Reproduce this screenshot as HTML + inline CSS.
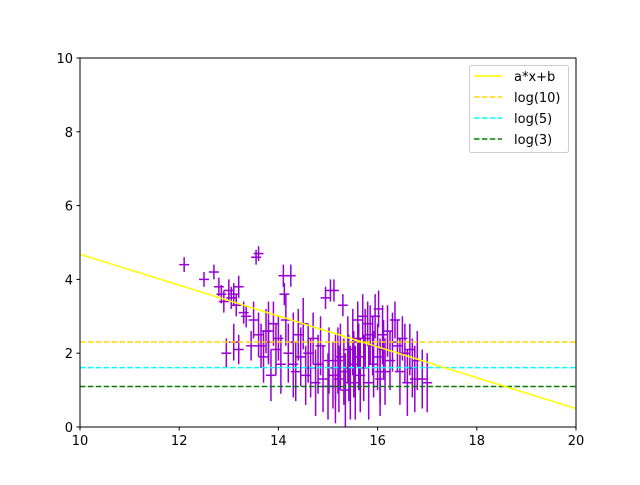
<!DOCTYPE html>
<html><head><meta charset="utf-8"><style>
html,body{margin:0;padding:0;background:#fff;}
svg text{font-family:"DejaVu Sans","Liberation Sans",sans-serif;font-size:13px;fill:#000;}
</style></head><body>
<svg id="chart" width="640" height="480" xmlns="http://www.w3.org/2000/svg">
<rect width="640" height="480" fill="#fff"/>
<g id="bars"></g>
<g id="lines"></g>
<rect x="80" y="58" width="496" height="369" fill="none" stroke="#000" stroke-width="1"/>
<g id="ticks"></g>
<g>
<rect x="469.5" y="65.5" width="99" height="87" rx="2" fill="#fff" fill-opacity="0.8" stroke="#ccc"/>
<line x1="474" y1="76" x2="502" y2="76" stroke="#ffff00" stroke-width="1.5"/>
<text x="514" y="81">a*x+b</text>
<line x1="474" y1="97" x2="502" y2="97" stroke="#ffd700" stroke-width="1.5" stroke-dasharray="5.5,2.4"/>
<text x="514" y="102">log(10)</text>
<line x1="474" y1="118" x2="502" y2="118" stroke="#00ffff" stroke-width="1.5" stroke-dasharray="5.5,2.4"/>
<text x="514" y="123">log(5)</text>
<line x1="474" y1="139" x2="502" y2="139" stroke="#008000" stroke-width="1.5" stroke-dasharray="5.5,2.4"/>
<text x="514" y="144">log(3)</text>
</g>
</svg>
<script>
const xTicks=[10,12,14,16,18,20];
const yTicks=[0,2,4,6,8,10];
const fitA=-0.418, fitB=8.86;
const hLevels=[Math.log(10),Math.log(5),Math.log(3)];
const hColors=["#ffd700","#00ffff","#008000"];
const ptX=[12.1,12.5,12.7,12.8,12.85,12.9,12.95,13.0,13.05,13.1,13.15,13.2,13.1,13.2,13.3,13.35,13.45,13.55,13.6,13.5,13.6,13.65,13.7,13.75,13.8,13.85,13.9,13.95,14.0,14.05,14.1,14.12,14.15,14.2,14.25,14.3,14.35,14.4,14.45,14.5,14.55,14.6,14.65,14.7,14.75,14.8,14.85,14.9,14.95,15.0,15.02,15.05,15.1,15.12,15.15,15.2,15.22,15.25,15.3,15.32,15.35,15.4,15.42,15.45,15.5,15.52,15.55,15.6,15.62,15.65,15.7,15.72,15.75,15.8,15.82,15.85,15.9,15.92,15.95,16.0,16.02,16.05,16.1,16.12,16.15,16.2,16.25,16.3,16.35,16.4,16.45,16.5,16.55,16.6,16.65,16.7,16.75,16.8,16.9,17.0,13.8,14.3,15.15,15.6,16.05];
const ptY=[4.4,4.0,4.2,3.8,3.6,3.4,2.0,3.7,3.5,3.6,3.3,3.8,2.3,2.1,3.1,3.0,2.2,4.6,4.7,2.9,2.5,2.2,1.9,2.6,2.3,1.4,2.8,2.1,2.4,1.7,4.1,3.6,2.9,2.0,4.1,2.3,1.5,2.5,1.9,2.8,1.4,2.0,1.6,2.4,1.2,1.7,2.2,1.3,3.5,1.1,1.8,3.7,1.4,3.7,1.1,1.8,1.3,1.9,3.3,1.5,1.0,2.1,1.6,1.2,2.3,1.7,1.2,2.9,1.9,1.4,3.0,1.6,2.4,2.8,1.2,2.5,2.2,1.7,3.0,1.9,3.2,1.3,2.5,2.1,1.5,2.6,1.8,2.3,2.9,2.2,1.5,2.4,2.0,1.2,2.1,1.6,1.3,1.8,1.3,1.2,2.6,1.7,1.6,2.4,1.5];
const ptErr=[0.2,0.2,0.2,0.25,0.25,0.3,0.4,0.3,0.3,0.3,0.3,0.3,0.5,0.4,0.3,0.3,0.4,0.2,0.2,0.5,0.6,0.6,0.7,0.6,0.6,0.7,0.6,0.7,0.6,0.8,0.3,0.3,0.7,0.8,0.3,0.8,0.8,0.7,0.8,0.7,0.8,0.8,0.8,0.7,0.9,0.8,0.8,0.9,0.3,0.9,0.9,0.3,0.9,0.3,1.0,0.9,0.9,0.9,0.3,0.9,1.0,0.9,0.9,1.0,0.9,0.9,1.0,0.5,0.9,1.0,0.6,0.9,0.8,0.6,1.0,0.8,0.8,0.9,0.6,0.9,0.5,1.0,0.8,0.8,0.9,0.7,0.8,0.8,0.5,0.7,0.9,0.6,0.8,0.9,0.7,0.8,0.9,0.8,0.8,0.8,0.8,0.9,0.9,0.8,0.9];
const L=80,R=576,T=58,B=427;
const sx=v=>L+(v-10)/10*(R-L);
const sy=v=>B-(v/10)*(B-T);
const NS="http://www.w3.org/2000/svg";
function mk(tag,attrs,parent){const e=document.createElementNS(NS,tag);for(const k in attrs)e.setAttribute(k,attrs[k]);parent.appendChild(e);return e;}
const bars=document.getElementById('bars');
for(let i=0;i<ptX.length;i++){
  const g=mk('g',{},bars);
  
  
  mk('line',{x1:sx(ptX[i]),x2:sx(ptX[i]),y1:sy(ptY[i]-ptErr[i]),y2:sy(ptY[i]+ptErr[i]),stroke:'#9400d3','stroke-width':1.5},g);
  mk('line',{x1:sx(ptX[i]-0.1),x2:sx(ptX[i]+0.1),y1:sy(ptY[i]),y2:sy(ptY[i]),stroke:'#9400d3','stroke-width':1.5},g);
}
const lines=document.getElementById('lines');
hLevels.forEach((v,i)=>{
  const l=mk('line',{x1:L,x2:R,y1:sy(v),y2:sy(v),stroke:hColors[i],'stroke-width':1.5,'stroke-dasharray':'5.5,2.4'},lines);
  
  
});
const fl=mk('line',{x1:sx(10),x2:sx(20),y1:sy(fitA*10+fitB),y2:sy(fitA*20+fitB),stroke:'#ffff00','stroke-width':1.5},lines);


const tk=document.getElementById('ticks');
xTicks.forEach(v=>{
  mk('line',{x1:sx(v),x2:sx(v),y1:B,y2:B+3.5,stroke:'#000'},tk);
  const t=mk('text',{x:sx(v),y:B+18,'text-anchor':'middle'},tk);t.textContent=v;
  
  
});
yTicks.forEach(v=>{
  mk('line',{x1:L-3.5,x2:L,y1:sy(v),y2:sy(v),stroke:'#000'},tk);
  const t=mk('text',{x:L-7,y:sy(v)+5,'text-anchor':'end'},tk);t.textContent=v;
  
  
});
</script>
</body></html>
